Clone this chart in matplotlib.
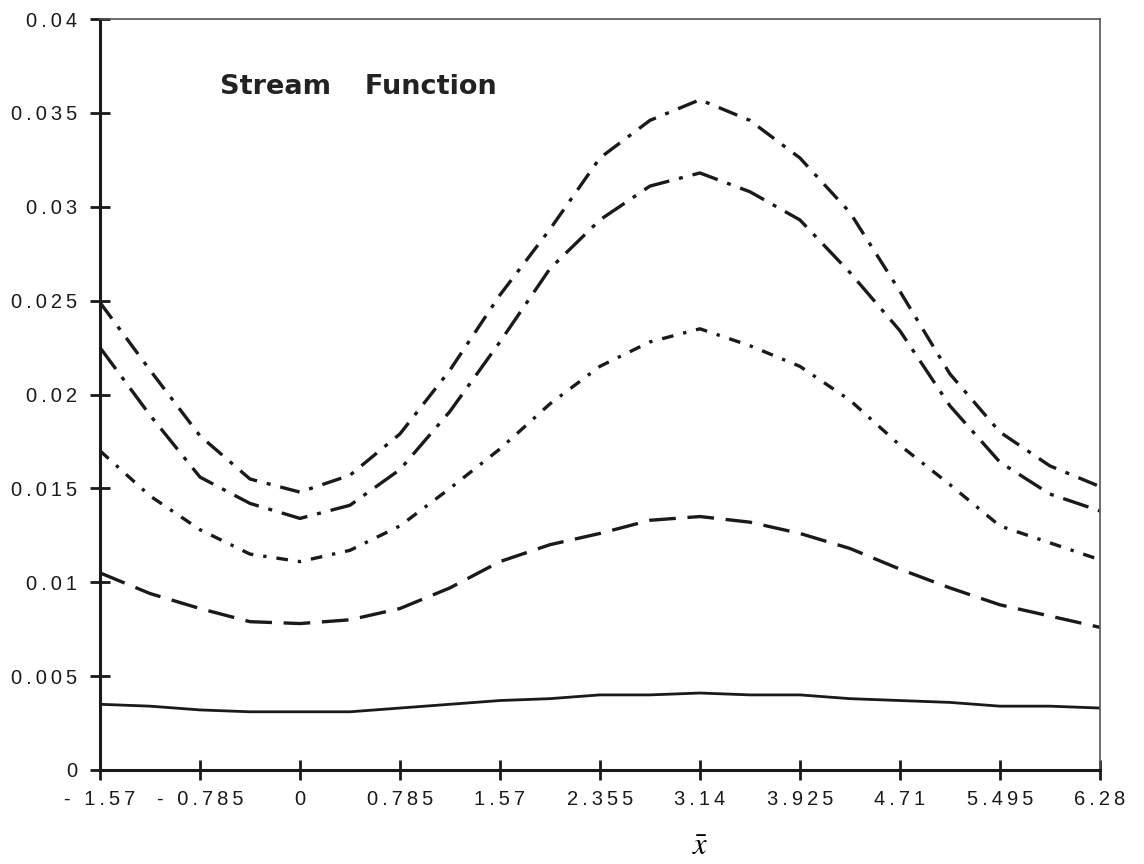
import matplotlib
matplotlib.use('Agg')
import matplotlib.pyplot as plt
import numpy as np

# puntos en x: de -pi/2 a 2*pi cada pi/8
x = np.linspace(-1.57, 6.28, 21)

# funcion de corriente, cinco casos
psi_1 = [0.0035, 0.0034, 0.0032, 0.0031, 0.0031, 0.0031, 0.0033, 0.0035, 0.0037, 0.0038, 0.0040,
         0.0040, 0.0041, 0.0040, 0.0040, 0.0038, 0.0037, 0.0036, 0.0034, 0.0034, 0.0033]
psi_2 = [0.0105, 0.0094, 0.0086, 0.0079, 0.0078, 0.0080, 0.0086, 0.0097, 0.0111, 0.0120, 0.0126,
         0.0133, 0.0135, 0.0132, 0.0126, 0.0118, 0.0107, 0.0097, 0.0088, 0.0082, 0.0076]
psi_3 = [0.0170, 0.0146, 0.0128, 0.0115, 0.0111, 0.0117, 0.0130, 0.0150, 0.0171, 0.0195, 0.0215,
         0.0228, 0.0235, 0.0226, 0.0215, 0.0197, 0.0173, 0.0152, 0.0130, 0.0121, 0.0112]
psi_4 = [0.0225, 0.0189, 0.0156, 0.0142, 0.0134, 0.0141, 0.0160, 0.0191, 0.0228, 0.0267, 0.0293,
         0.0311, 0.0318, 0.0308, 0.0293, 0.0265, 0.0234, 0.0194, 0.0164, 0.0147, 0.0138]
psi_5 = [0.0249, 0.0213, 0.0178, 0.0155, 0.0148, 0.0157, 0.0179, 0.0213, 0.0253, 0.0288, 0.0326,
         0.0346, 0.0357, 0.0346, 0.0326, 0.0297, 0.0255, 0.0211, 0.0180, 0.0162, 0.0151]

xticks = [-1.57, -0.785, 0, 0.785, 1.57, 2.355, 3.14, 3.925, 4.71, 5.495, 6.28]
xlabels = ['- 1.57', '- 0.785', '0', '0.785', '1.57', '2.355', '3.14', '3.925', '4.71', '5.495', '6.28']
yticks = [0, 0.005, 0.01, 0.015, 0.02, 0.025, 0.03, 0.035, 0.04]
ylabels = ['0', '0.005', '0.01', '0.015', '0.02', '0.025', '0.03', '0.035', '0.04']


def espaciar(s):
    # letras separadas con espacio fino
    return '\u2009'.join(s)


plt.rcParams['font.family'] = ['Liberation Sans', 'DejaVu Sans']
plt.rcParams['mathtext.fontset'] = 'stix'

fig = plt.figure(figsize=(11.44, 8.64), dpi=100)
ax = fig.add_axes([0.0874, 0.1088, 0.874, 0.8692])

c = '#1a1a1a'
ax.plot(x, psi_1, color=c, lw=2.0, linestyle='-')
ax.plot(x, psi_2, color=c, lw=2.4, linestyle=(0, (8, 3.5)))
ax.plot(x, psi_3, color=c, lw=2.4, linestyle=(0, (3.5, 3, 1, 3)))
ax.plot(x, psi_4, color=c, lw=2.4, linestyle=(0, (8, 3, 1.2, 3)))
ax.plot(x, psi_5, color=c, lw=2.4, linestyle=(0, (6, 3, 1.2, 3)))

ax.set_xlim(-1.57, 6.28)
ax.set_ylim(0, 0.04)
ax.set_xticks(xticks)
ax.set_xticklabels([espaciar(s) for s in xlabels])
ax.set_yticks(yticks)
ax.set_yticklabels([espaciar(s) for s in ylabels])
ax.tick_params(axis='both', direction='inout', length=15, width=2, labelsize=14.5,
               color=c, labelcolor=c)
ax.tick_params(axis='x', pad=7)
ax.tick_params(axis='y', pad=9)

ax.spines['left'].set_linewidth(2.2)
ax.spines['bottom'].set_linewidth(2.2)
ax.spines['left'].set_color(c)
ax.spines['bottom'].set_color(c)
ax.spines['top'].set_linewidth(1.2)
ax.spines['right'].set_linewidth(1.2)
ax.spines['top'].set_color('#555555')
ax.spines['right'].set_color('#555555')

ax.text(0.12, 0.91, 'Stream   \u2009Function', transform=ax.transAxes, fontsize=19.5,
        fontweight='bold', family='DejaVu Sans', color='#222222', va='center', ha='left')

ax.set_xlabel(r'$\bar{x}$', fontsize=22)
ax.xaxis.set_label_coords(0.6, -0.083)

fig.savefig('out.png', dpi=100)
